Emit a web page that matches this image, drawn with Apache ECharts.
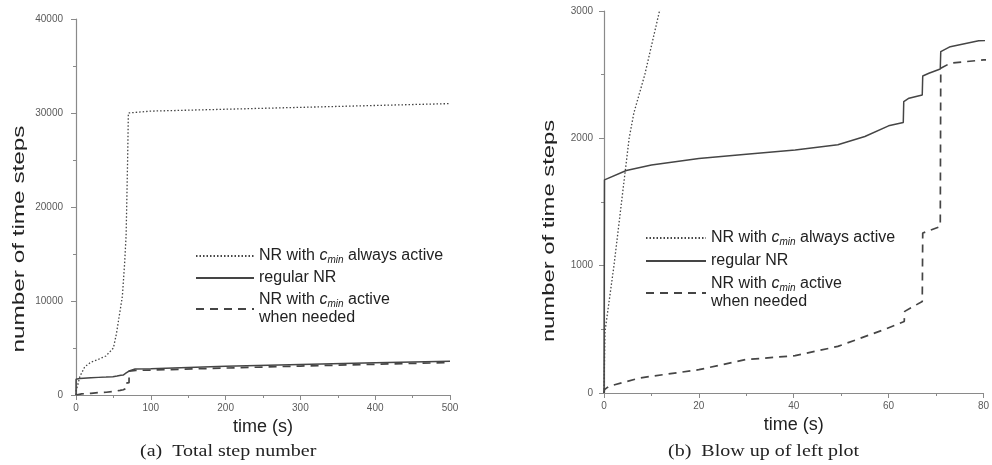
<!DOCTYPE html>
<html>
<head>
<meta charset="utf-8">
<script src="https://cdn.jsdelivr.net/npm/echarts@6/dist/echarts.min.js"></script>
<style>
  html, body { margin: 0; padding: 0; background: #fff; }
  #main { width: 992px; height: 465px; }
</style>
</head>
<body>
<div id="main"></div>
<script>
// series names
var nameAlways = 'NR with cmin always active'
var nameRegular = 'regular NR'
var nameNeeded = 'NR with cmin active when needed'

// [time (s), number of time steps]
var alwaysActive = [
  [0, 0], [0.2, 480], [2.1, 1000], [3.7, 1500], [5.3, 2000], [6.3, 2200], [8.6, 2500],
  [11.7, 3000], [20, 3500], [30, 3800], [40, 4150], [50, 5000], [54, 6500], [58, 8500],
  [62, 10500], [65, 14000], [67, 17000], [69, 25000], [70, 30000], [72, 30150],
  [100, 30200], [200, 30400], [300, 30600], [400, 30800], [500, 31000]
]
var regularNR = [
  [0, 0], [0.1, 1674], [4.7, 1747], [10, 1790], [20, 1841], [30, 1875], [40.3, 1909],
  [49.3, 1949], [55, 2014], [60, 2098], [63.1, 2124], [63.2, 2289], [64.3, 2315],
  [67.1, 2341], [67.2, 2490], [68.5, 2511], [70.9, 2545], [71, 2681], [73, 2720],
  [79, 2767], [100, 2800], [200, 3050], [300, 3250], [400, 3430], [500, 3600]
]
var whenNeeded = [
  [0, 0], [0.1, 26], [1, 52], [7.5, 118], [20, 183], [29.8, 262], [40.3, 293],
  [49.3, 366], [59, 497], [63.3, 562], [63.4, 641], [67.1, 719], [67.2, 1256],
  [70.9, 1308], [71, 2550], [73, 2590], [80, 2616], [100, 2650], [200, 2870],
  [300, 3080], [400, 3270], [500, 3450]
]

var chart = echarts.init(document.getElementById('main'))

var lineColor = '#454545'
var axisColor = '#8a8a8a'
var labelColor = '#5a5a5a'
var sans = 'Liberation Sans'

function xAxis(idx, max, interval) {
  return {
    type: 'value', gridIndex: idx, min: 0, max: max, interval: interval,
    name: 'time (s)', nameLocation: 'middle', nameGap: 21,
    nameTextStyle: { fontFamily: sans, fontSize: 18, color: '#222' },
    axisLine: { lineStyle: { color: axisColor, width: 1.2 } },
    axisTick: { length: 5, lineStyle: { color: axisColor } },
    minorTick: { show: true, splitNumber: 2, length: 3, lineStyle: { color: axisColor } },
    axisLabel: { fontFamily: sans, fontSize: 10, color: labelColor, margin: 8 },
    splitLine: { show: false }
  }
}

function yAxis(idx, max, interval, margin) {
  return {
    type: 'value', gridIndex: idx, min: 0, max: max, interval: interval,
    axisLine: { show: true, lineStyle: { color: axisColor, width: 1.2 } },
    axisTick: { show: true, length: 5, lineStyle: { color: axisColor } },
    minorTick: { show: true, splitNumber: 2, length: 3, lineStyle: { color: axisColor } },
    axisLabel: {
      fontFamily: sans, fontSize: 10, color: labelColor, margin: margin,
      formatter: function (v) { return String(v) }
    },
    splitLine: { show: false }
  }
}

function line(name, data, idx, type, width) {
  return {
    name: name, type: 'line', data: data, xAxisIndex: idx, yAxisIndex: idx,
    symbol: 'none', showSymbol: false,
    lineStyle: { color: lineColor, width: width, type: type },
    itemStyle: { color: lineColor }
  }
}

var rich = {
  t: { fontFamily: sans, fontSize: 16, color: '#222', lineHeight: 18 },
  c: { fontFamily: sans, fontSize: 16, fontStyle: 'italic', color: '#222', lineHeight: 18 },
  m: { fontFamily: sans, fontSize: 10, fontStyle: 'italic', color: '#222', lineHeight: 12, verticalAlign: 'bottom' }
}

function legendText(name) {
  if (name == nameAlways) return '{t|NR with }{c|c}{m|min}{t| always active}'
  if (name == nameNeeded) return '{t|NR with }{c|c}{m|min}{t| active}\n{t|when needed}'
  return '{t|' + name + '}'
}

function legend(left, top, width, gap) {
  return {
    orient: 'vertical', left: left, top: top, itemWidth: width, itemHeight: 10, itemGap: gap,
    data: [nameAlways, nameRegular, nameNeeded],
    formatter: legendText,
    itemStyle: { opacity: 0 },
    textStyle: { rich: rich, lineHeight: 18 },
    selectedMode: false
  }
}

// the y titles in the source are stretched along their length
function yTitle(x, y, stretch) {
  return {
    type: 'text', x: x, y: y, rotation: Math.PI / 2, scaleX: stretch, scaleY: 1,
    style: {
      text: 'number of time steps', font: '17px "Liberation Sans"', fill: '#222',
      textAlign: 'center', textVerticalAlign: 'middle'
    }
  }
}

function caption(x, y, text) {
  return {
    type: 'text', x: x, y: y, scaleX: 1.25, scaleY: 1,
    style: {
      text: text, font: '16px "Liberation Serif"', fill: '#222',
      textAlign: 'left', textVerticalAlign: 'middle'
    }
  }
}

chart.setOption({
  animation: false,
  backgroundColor: '#fff',
  grid: [
    { left: 76, top: 19, width: 374, height: 376 },
    { left: 604, top: 11, width: 382, height: 382 }
  ],
  xAxis: [xAxis(0, 500, 100), xAxis(1, 80, 20)],
  yAxis: [yAxis(0, 40000, 10000, 13), yAxis(1, 3000, 1000, 11)],
  legend: [legend(190, 242, 58, 4), legend(640, 224, 60, 5)],
  series: [
    line(nameAlways, alwaysActive, 0, [1.5, 2], 1.3),
    line(nameRegular, regularNR, 0, 'solid', 1.5),
    line(nameNeeded, whenNeeded, 0, [8, 6], 1.7),
    line(nameAlways, alwaysActive, 1, [1.5, 2], 1.3),
    line(nameRegular, regularNR, 1, 'solid', 1.5),
    line(nameNeeded, whenNeeded, 1, [8, 6], 1.7)
  ],
  graphic: [
    yTitle(19, 239, 1.43),
    yTitle(549, 231, 1.4),
    caption(140, 452, '(a)  Total step number'),
    caption(668, 452, '(b)  Blow up of left plot')
  ]
})
</script>
</body>
</html>
